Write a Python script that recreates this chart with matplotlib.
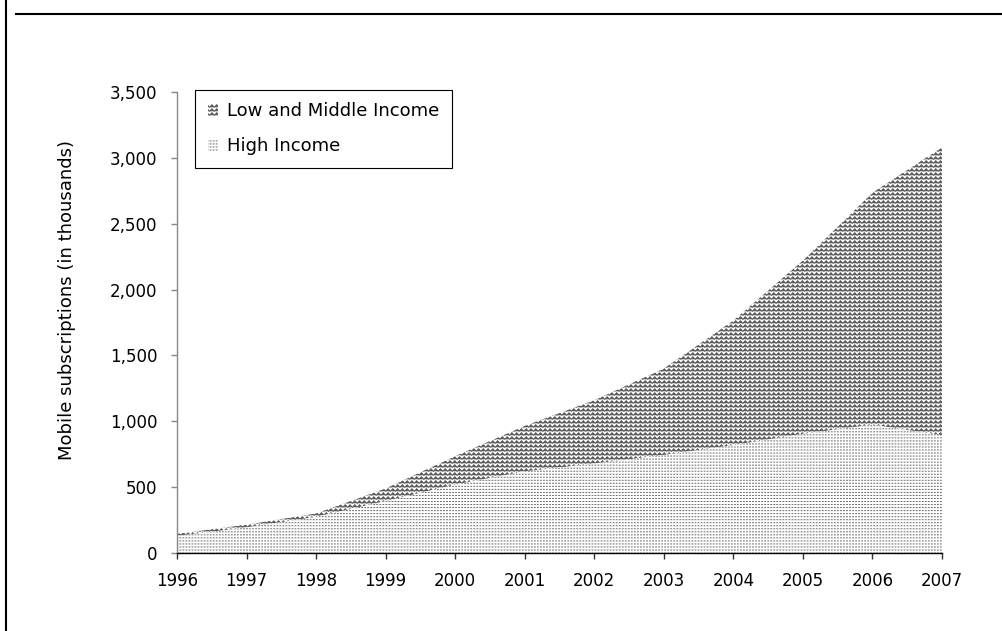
import numpy as np
import matplotlib
matplotlib.use("Agg")
import matplotlib.pyplot as plt
import matplotlib.hatch as mhatch
from matplotlib.path import Path
from matplotlib.lines import Line2D
from matplotlib.ticker import FuncFormatter

# ---------------- data ----------------
years = [1996, 1997, 1998, 1999, 2000, 2001, 2002, 2003, 2004, 2005, 2006, 2007]
high_income = [130, 195, 275, 395, 520, 620, 680, 745, 820, 905, 975, 895]
low_middle_income = [15, 20, 25, 95, 215, 345, 480, 655, 945, 1315, 1760, 2185]
series_labels = ["Low and Middle Income", "High Income"]
y_label = "Mobile subscriptions (in thousands)"
y_ticks = [0, 500, 1000, 1500, 2000, 2500, 3000, 3500]

# ---------------- custom hatch textures ----------------
class ZigZagHatch(mhatch.HatchPatternBase):
    def __init__(self, hatch, density):
        self.num_lines = 25 if 'z' in hatch else 0
        self.teeth = 21
        self.num_vertices = self.num_lines * (2 * self.teeth + 1)

    def set_vertices_and_codes(self, vertices, codes):
        per = 2 * self.teeth + 1
        xs = np.linspace(0, 1, per)
        amp = 0.32 / self.num_lines
        off = np.where(np.arange(per) % 2 == 0, -amp, amp)
        for i in range(self.num_lines):
            y0 = (i + 0.5) / self.num_lines
            sl = slice(i * per, (i + 1) * per)
            vertices[sl, 0] = xs
            vertices[sl, 1] = y0 + off
            codes[sl] = Path.LINETO
            codes[i * per] = Path.MOVETO


class DotHatch(mhatch.HatchPatternBase):
    def __init__(self, hatch, density):
        self.n = 33 if 'd' in hatch else 0
        self.num_vertices = self.n * self.n * 2

    def set_vertices_and_codes(self, vertices, codes):
        n = self.n
        k = 0
        for i in range(n):
            for j in range(n):
                x = (j + 0.5) / n
                y = (i + 0.5) / n
                vertices[k] = (x - 0.004, y)
                vertices[k + 1] = (x + 0.004, y)
                codes[k] = Path.MOVETO
                codes[k + 1] = Path.LINETO
                k += 2


mhatch._hatch_types.append(ZigZagHatch)
mhatch._hatch_types.append(DotHatch)
mhatch._validate_hatch_pattern = lambda h: None

plt.rcParams['font.family'] = ['DejaVu Sans']
plt.rcParams['hatch.linewidth'] = 0.72

# ---------------- figure ----------------
fig = plt.figure(figsize=(10.02, 6.31), dpi=100)
ax = fig.add_axes([177 / 1002, (631 - 553) / 631, 765 / 1002, 461 / 631])

high = np.array(high_income, dtype=float)
low = np.array(low_middle_income, dtype=float)
total = high + low

f_high = ax.fill_between(years, 0, high, facecolor='white', edgecolor='#6a6a6a',
                         linewidth=0, hatch='d', label=series_labels[1])
f_low = ax.fill_between(years, high, total, facecolor='white', edgecolor='#5a5a5a',
                        linewidth=0, hatch='z', label=series_labels[0])

ax.set_xlim(years[0], years[-1])
ax.set_ylim(0, 3500)
ax.set_xticks(years)
ax.set_xticklabels([str(y) for y in years])
ax.set_yticks(y_ticks)
ax.yaxis.set_major_formatter(FuncFormatter(lambda v, p: f"{int(v):,}"))

for s in ['top', 'right']:
    ax.spines[s].set_visible(False)
ax.spines['left'].set_color('#888888')
ax.spines['left'].set_linewidth(1.0)
ax.spines['bottom'].set_color('black')
ax.spines['bottom'].set_linewidth(1.0)

ax.tick_params(axis='x', length=4, width=1, color='#333333', pad=10, labelsize=12)
ax.tick_params(axis='y', length=4, width=1, color='#888888', pad=10, labelsize=12)

ax.set_ylabel(y_label, fontsize=13)
ax.yaxis.set_label_coords(-0.132, 0.549)

leg = ax.legend(handles=[f_low, f_high], labels=series_labels, loc='upper left',
                bbox_to_anchor=(0.0235, 1.005), borderaxespad=0, fancybox=False,
                edgecolor='black', framealpha=1, fontsize=13,
                handlelength=0.6, handleheight=0.6, handletextpad=0.5,
                borderpad=0.7, labelspacing=0.95)
leg.get_frame().set_linewidth(0.8)

# outer frame lines
fig.add_artist(Line2D([5.5 / 1002, 5.5 / 1002], [0, 1], transform=fig.transFigure,
                      color='black', linewidth=1.5))
fig.add_artist(Line2D([16 / 1002, 1], [1 - 13.5 / 631, 1 - 13.5 / 631],
                      transform=fig.transFigure, color='black', linewidth=1.5))

fig.savefig('out.png', dpi=100)
